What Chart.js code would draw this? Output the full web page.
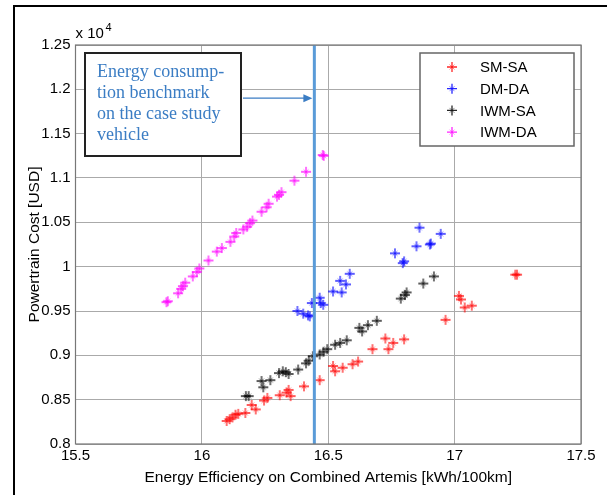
<!DOCTYPE html>
<html>
<head>
<meta charset="utf-8">
<script src="https://cdn.jsdelivr.net/npm/chart.js@4/dist/chart.umd.min.js"></script>
<style>
    html, body { margin: 0; padding: 0; background: #fff; }
    #wrap { position: relative; width: 607px; height: 495px; }
</style>
</head>
<body>
<div id="wrap"><canvas id="chart" width="607" height="495"></canvas></div>
<script>
// values in units of 10^4 USD
const smSa = [
    [16.098, 0.826], [16.11, 0.828], [16.121, 0.830], [16.133, 0.833], [16.144, 0.834],
    [16.172, 0.835], [16.197, 0.844], [16.213, 0.839], [16.246, 0.849], [16.259, 0.852],
    [16.308, 0.855], [16.335, 0.858], [16.343, 0.861], [16.351, 0.854], [16.404, 0.865],
    [16.466, 0.872], [16.519, 0.888], [16.527, 0.882], [16.557, 0.886], [16.596, 0.890],
    [16.618, 0.893], [16.675, 0.907], [16.726, 0.919], [16.738, 0.907], [16.757, 0.914],
    [16.80, 0.918], [16.964, 0.940], [17.017, 0.967], [17.025, 0.963], [17.04, 0.954],
    [17.068, 0.956], [17.24, 0.991], [17.247, 0.991],
];
const dmDa = [
    [16.378, 0.950], [16.401, 0.947], [16.42, 0.945], [16.427, 0.944], [16.435, 0.959],
    [16.466, 0.965], [16.47, 0.959], [16.48, 0.957], [16.519, 0.972], [16.547, 0.984],
    [16.553, 0.971], [16.57, 0.980], [16.585, 0.992], [16.764, 1.015], [16.795, 1.004],
    [16.80, 1.006], [16.849, 1.023], [16.861, 1.044], [16.902, 1.025], [16.906, 1.026],
    [16.945, 1.037],
];
const iwmSa = [
    [16.174, 0.854], [16.185, 0.854], [16.236, 0.871], [16.243, 0.864], [16.271, 0.872],
    [16.305, 0.880], [16.32, 0.882], [16.332, 0.881], [16.343, 0.879], [16.381, 0.884],
    [16.412, 0.891], [16.423, 0.894], [16.439, 0.899], [16.466, 0.901], [16.481, 0.904],
    [16.496, 0.907], [16.527, 0.912], [16.547, 0.914], [16.573, 0.917], [16.623, 0.931],
    [16.634, 0.927], [16.657, 0.934], [16.692, 0.939], [16.787, 0.964], [16.803, 0.968],
    [16.81, 0.971], [16.876, 0.981], [16.918, 0.989],
];
const iwmDa = [
    [15.86, 0.960], [15.865, 0.961], [15.906, 0.970], [15.918, 0.975], [15.925, 0.978],
    [15.934, 0.982], [15.964, 0.989], [15.98, 0.994], [15.99, 0.998], [16.026, 1.007],
    [16.059, 1.017], [16.079, 1.021], [16.113, 1.028], [16.128, 1.034], [16.136, 1.038],
    [16.164, 1.042], [16.179, 1.045], [16.19, 1.049], [16.20, 1.052], [16.236, 1.062],
    [16.256, 1.067], [16.264, 1.071], [16.297, 1.079], [16.305, 1.081], [16.315, 1.084],
    [16.366, 1.097], [16.412, 1.107], [16.478, 1.126], [16.482, 1.125],
];
const seriesNames = ["SM-SA", "DM-DA", "IWM-SA", "IWM-DA"];
const seriesColors = ["#ff0000", "#0000ff", "#000000", "#ff00ff"];
const benchmarkX = 16.445;
const xTicks = [15.5, 16, 16.5, 17, 17.5];
const xTickLabels = ["15.5", "16", "16.5", "17", "17.5"];
const yTicks = [0.8, 0.85, 0.9, 0.95, 1, 1.05, 1.1, 1.15, 1.2, 1.25];
const yTickLabels = ["0.8", "0.85", "0.9", "0.95", "1", "1.05", "1.1", "1.15", "1.2", "1.25"];
const noteLines = ["Energy consump-", "tion benchmark", "on the case study", "vehicle"];

const FONT = "'Liberation Sans', Arial, sans-serif";
const toPts = (arr) => arr.map(([x, y]) => ({ x, y }));

// soft matlab-like '*' marker: strong plus, faint diagonals
function drawMarker(ctx, x, y, color) {
    ctx.save();
    ctx.strokeStyle = color;
    ctx.lineCap = "butt";
    ctx.globalAlpha = 0.85;
    ctx.lineWidth = 1.3;
    ctx.beginPath();
    ctx.moveTo(x - 5, y); ctx.lineTo(x + 5, y);
    ctx.moveTo(x, y - 5); ctx.lineTo(x, y + 5);
    ctx.stroke();
    ctx.globalAlpha = 0.45;
    ctx.lineWidth = 1;
    ctx.beginPath();
    ctx.moveTo(x - 2.5, y - 2.5); ctx.lineTo(x + 2.5, y + 2.5);
    ctx.moveTo(x - 2.5, y + 2.5); ctx.lineTo(x + 2.5, y - 2.5);
    ctx.stroke();
    ctx.restore();
}

function markerImage(color) {
    const c = document.createElement("canvas");
    c.width = 12;
    c.height = 12;
    drawMarker(c.getContext("2d"), 6, 6, color);
    return c;
}

// frame, axis box, note box with arrow, legend and the x10^4 multiplier
const decorations = {
    id: "decorations",
    beforeDraw(chart) {
        const ctx = chart.ctx;
        ctx.save();
        ctx.fillStyle = "#fff";
        ctx.fillRect(0, 0, chart.width, chart.height);
        ctx.strokeStyle = "#000";
        ctx.lineWidth = 2;
        ctx.beginPath();
        ctx.moveTo(14, 495);
        ctx.lineTo(14, 6);
        ctx.lineTo(607, 6);
        ctx.stroke();
        ctx.restore();
    },
    afterDraw(chart) {
        const ctx = chart.ctx;
        const a = chart.chartArea;
        const xs = chart.scales.x;
        const ys = chart.scales.y;
        ctx.save();

        // axis box
        ctx.strokeStyle = "#777";
        ctx.lineWidth = 1.2;
        ctx.strokeRect(a.left, a.top, a.right - a.left, a.bottom - a.top);

        // multiplier
        ctx.fillStyle = "#000";
        ctx.font = "15px " + FONT;
        ctx.textBaseline = "alphabetic";
        ctx.textAlign = "left";
        ctx.fillText("x 10", a.left, a.top - 7);
        ctx.font = "11px " + FONT;
        ctx.fillText("4", a.left + 30, a.top - 14);

        // note box
        ctx.fillStyle = "#fff";
        ctx.fillRect(85, 53, 156, 103);
        ctx.strokeStyle = "#222";
        ctx.lineWidth = 2;
        ctx.strokeRect(85, 53, 156, 103);
        ctx.fillStyle = "#3b7dc4";
        ctx.font = "18px 'Liberation Serif', 'Times New Roman', serif";
        ctx.textBaseline = "middle";
        noteLines.forEach((t, i) => ctx.fillText(t, 97, 72 + i * 21));

        // arrow to benchmark line
        const ay = ys.getPixelForValue(1.19);
        const ax = xs.getPixelForValue(benchmarkX) - 2;
        ctx.strokeStyle = "#3b7dc4";
        ctx.fillStyle = "#3b7dc4";
        ctx.lineWidth = 1.2;
        ctx.beginPath();
        ctx.moveTo(243, ay);
        ctx.lineTo(ax - 8, ay);
        ctx.stroke();
        ctx.beginPath();
        ctx.moveTo(ax, ay);
        ctx.lineTo(ax - 9, ay - 4);
        ctx.lineTo(ax - 9, ay + 4);
        ctx.closePath();
        ctx.fill();

        // legend
        ctx.fillStyle = "#fff";
        ctx.fillRect(420, 53, 154, 93);
        ctx.strokeStyle = "#666";
        ctx.lineWidth = 1.5;
        ctx.strokeRect(420, 53, 154, 93);
        ctx.font = "15px " + FONT;
        ctx.textBaseline = "middle";
        seriesNames.forEach((name, i) => {
            const y = 67 + i * 21.7;
            drawMarker(ctx, 452, y, seriesColors[i]);
            ctx.fillStyle = "#000";
            ctx.fillText(name, 480, y + 1);
        });
        ctx.restore();
    },
};

const datasets = [smSa, dmDa, iwmSa, iwmDa].map((d, i) => ({
    label: seriesNames[i],
    data: toPts(d),
    showLine: false,
    pointStyle: markerImage(seriesColors[i]),
    pointRadius: 6,
    borderColor: seriesColors[i],
    backgroundColor: seriesColors[i],
    order: 1,
}));
datasets.push({
    label: "benchmark",
    type: "line",
    data: [{ x: benchmarkX, y: 0.8 }, { x: benchmarkX, y: 1.25 }],
    borderColor: "#5a9bd8",
    borderWidth: 3,
    pointRadius: 0,
    order: 0,
});

new Chart(document.getElementById("chart"), {
    type: "scatter",
    data: { datasets },
    plugins: [decorations],
    options: {
        responsive: false,
        animation: false,
        layout: { padding: { left: 0, top: 45, right: 26, bottom: 0 } },
        plugins: { legend: { display: false }, tooltip: { enabled: false } },
        scales: {
            x: {
                type: "linear",
                min: 15.5,
                max: 17.5,
                afterFit: (s) => { s.height = 51; },
                afterBuildTicks: (s) => { s.ticks = xTicks.map((v) => ({ value: v })); },
                ticks: {
                    padding: 3,
                    color: "#000",
                    font: { size: 15, family: FONT },
                    callback: (v) => xTickLabels[xTicks.indexOf(v)],
                },
                grid: { color: "#aaa", drawTicks: false },
                border: { display: false },
                title: {
                    display: true,
                    text: "Energy Efficiency on Combined Artemis [kWh/100km]",
                    color: "#000",
                    font: { size: 15.5, family: FONT },
                    padding: { top: 0, bottom: 8 },
                },
            },
            y: {
                type: "linear",
                min: 0.8,
                max: 1.25,
                afterFit: (s) => { s.width = 75.5; },
                afterBuildTicks: (s) => { s.ticks = yTicks.map((v) => ({ value: v })); },
                ticks: {
                    padding: 5,
                    color: "#000",
                    font: { size: 15, family: FONT },
                    callback: (v) => yTickLabels[yTicks.indexOf(v)],
                },
                grid: { color: "#aaa", drawTicks: false },
                border: { display: false },
                title: {
                    display: true,
                    text: "Powertrain Cost [USD]",
                    color: "#000",
                    font: { size: 15.5, family: FONT },
                    padding: { top: 25, bottom: 0 },
                },
            },
        },
    },
});
</script>
</body>
</html>
